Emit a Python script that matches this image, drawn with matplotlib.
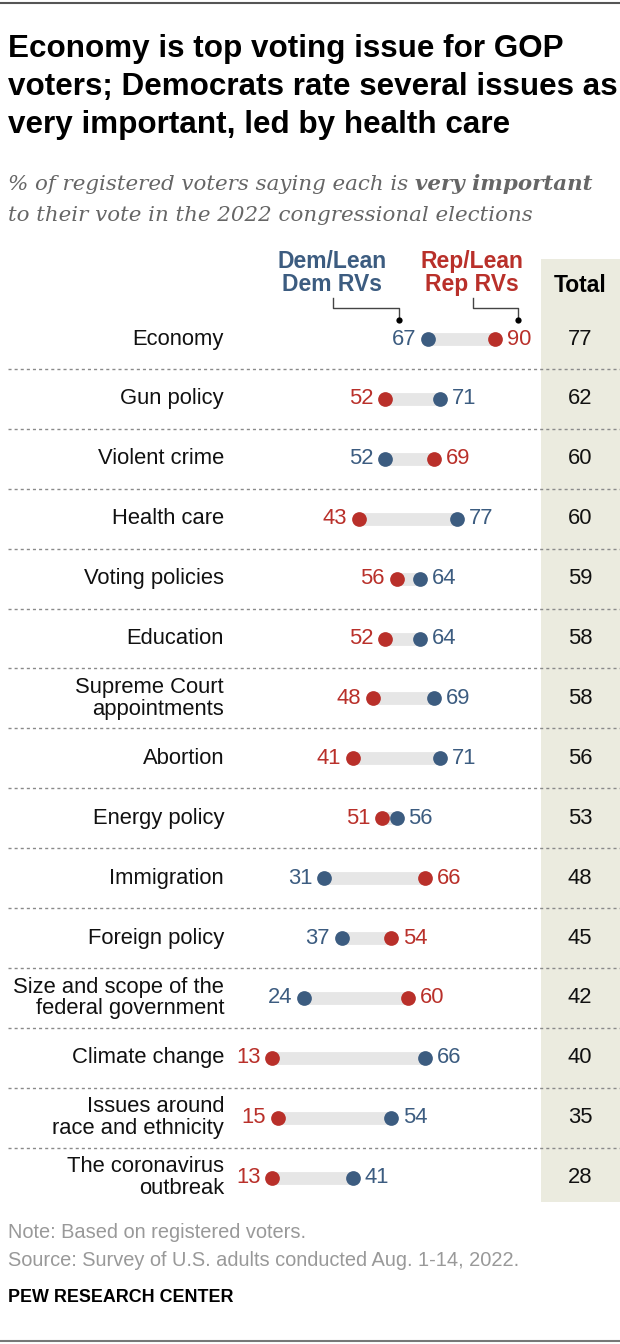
import matplotlib
matplotlib.use("Agg")
import matplotlib.pyplot as plt

issues = ["Economy", "Gun policy", "Violent crime", "Health care", "Voting policies",
          "Education", "Supreme Court\nappointments", "Abortion", "Energy policy",
          "Immigration", "Foreign policy", "Size and scope of the\nfederal government",
          "Climate change", "Issues around\nrace and ethnicity", "The coronavirus\noutbreak"]
dem = [67, 71, 52, 77, 64, 64, 69, 71, 56, 31, 37, 24, 66, 54, 41]
rep = [90, 52, 69, 43, 56, 52, 48, 41, 51, 66, 54, 60, 13, 15, 13]
total = [77, 62, 60, 60, 59, 58, 58, 56, 53, 48, 45, 42, 40, 35, 28]

BLUE = "#3C5C80"
RED = "#B9302A"
BAR = "#E6E6E6"
TOTAL_BG = "#EBEBDF"

BODY = ["Liberation Sans", "DejaVu Sans"]
SERIF = ["DejaVu Serif"]

W, H = 620, 1344
fig = plt.figure(figsize=(W / 100, H / 100), dpi=100)
ax = fig.add_axes([0, 0, 1, 1])
ax.set_axis_off()
rend = fig.canvas.get_renderer()


def px(x, y):
    return x / W, 1 - y / H


def text_width(parts, size):
    # total width in px of consecutive (text, kwargs) pieces at a font size
    w = 0
    for s, kw in parts:
        t = fig.text(0, 0, s, fontsize=size, **kw)
        w += t.get_window_extent(rend).width
        t.remove()
    return w


def fit_size(parts, target):
    return 20 * target / text_width(parts, 20)


# value axis: 0 at x=234.7px, 2.89 px per point; rows every 59.9 px starting at 339
x0, sx = 234.7, 2.89
y0, sy = 339, 59.9
ax.set_xlim(-x0 / sx, (W - x0) / sx)
ax.set_ylim((H - y0) / sy, -y0 / sy)

n = len(issues)
ax.axvspan((541 - x0) / sx, (W - x0) / sx, ymin=1 - 1202 / H, ymax=1 - 259 / H,
           color=TOTAL_BG, zorder=0, lw=0)

for i in range(n):
    d, r = dem[i], rep[i]
    ax.plot([d, r], [i, i], color=BAR, lw=9.2, solid_capstyle="butt", zorder=1)
    ax.plot(d, i, "o", color=BLUE, ms=10.6, mew=0, zorder=3)
    ax.plot(r, i, "o", color=RED, ms=10.6, mew=0, zorder=3)
    lo, hi = (d, r) if d < r else (r, d)
    lo_c = BLUE if d < r else RED
    hi_c = RED if d < r else BLUE
    ax.annotate(str(lo), (lo, i), xytext=(-8.5, 0), textcoords="offset points",
                ha="right", va="center", color=lo_c, fontsize=15.8, family=BODY)
    ax.annotate(str(hi), (hi, i), xytext=(8.5, 0), textcoords="offset points",
                ha="left", va="center", color=hi_c, fontsize=15.8, family=BODY)
    ax.text((224 - x0) / sx, i, issues[i], ha="right", va="center", fontsize=15.8,
            family=BODY, linespacing=1.05, color="#111111")
    ax.text((580 - x0) / sx, i, str(total[i]), ha="center", va="center",
            fontsize=15.8, family=BODY, color="#111111")
    if i < n - 1:
        ax.plot([(8 - x0) / sx, (W - x0) / sx], [i + 0.5, i + 0.5], color="#8A8A8A",
                lw=1, dashes=(2.2, 2.2), zorder=2)

# column headers
fig.text(*px(332, 273), "Dem/Lean\nDem RVs", ha="center", va="center", color=BLUE,
         fontsize=16.5, fontweight="bold", family=BODY, linespacing=0.95)
fig.text(*px(472, 273), "Rep/Lean\nRep RVs", ha="center", va="center", color=RED,
         fontsize=16.5, fontweight="bold", family=BODY, linespacing=0.95)
fig.text(*px(580, 285), "Total", ha="center", va="center", color="black",
         fontsize=16.5, fontweight="bold", family=BODY)

for xa, xb in [(333, 399), (473, 518)]:
    fig.lines.append(plt.Line2D([xa / W, xa / W, xb / W, xb / W],
                                [1 - 298 / H, 1 - 308 / H, 1 - 308 / H, 1 - 320 / H],
                                transform=fig.transFigure, color="#444444", lw=1))
    fig.lines.append(plt.Line2D([xb / W], [1 - 320 / H], transform=fig.transFigure,
                                marker="o", ms=4.5, color="black", mew=0))

# title, three lines, baselines 57 / 95 / 133
title = ["Economy is top voting issue for GOP",
         "voters; Democrats rate several issues as",
         "very important, led by health care"]
tkw = dict(fontweight="bold", family=BODY)
tsize = fit_size([(title[1], tkw)], 608)
for line, yb in zip(title, [57, 95, 133]):
    fig.text(*px(8, yb), line, ha="left", va="baseline", fontsize=tsize,
             color="black", **tkw)

# subtitle with bold italic part
skw = dict(style="italic", family=SERIF, color="#666666")
bkw = dict(skw, fontweight="bold")
part1 = "% of registered voters saying each is "
ssize = fit_size([(part1, skw), ("very important", bkw)], 585)
t1 = fig.text(*px(8, 190), part1, ha="left", va="baseline", fontsize=ssize, **skw)
bb = t1.get_window_extent(rend)
fig.text(bb.x1 / W, 1 - 190 / H, "very important", ha="left", va="baseline",
         fontsize=ssize, **bkw)
fig.text(*px(8, 221), "to their vote in the 2022 congressional elections", ha="left",
         va="baseline", fontsize=ssize, **skw)

# footer
note = "Note: Based on registered voters."
source = "Source: Survey of U.S. adults conducted Aug. 1-14, 2022."
fsize = fit_size([(source, dict(family=BODY))], 512)
fig.text(*px(8, 1233), note, ha="left", va="center", fontsize=fsize, family=BODY,
         color="#999999")
fig.text(*px(8, 1260), source, ha="left", va="center", fontsize=fsize, family=BODY,
         color="#999999")
pkw = dict(fontweight="bold", family=BODY)
psize = fit_size([("PEW RESEARCH CENTER", pkw)], 225)
fig.text(*px(8, 1298), "PEW RESEARCH CENTER", ha="left", va="center", fontsize=psize,
         color="black", **pkw)

fig.lines.append(plt.Line2D([0, 1], [1 - 3 / H, 1 - 3 / H], transform=fig.transFigure,
                            color="#555555", lw=1.5))
fig.lines.append(plt.Line2D([0, 1], [1 - 1341 / H, 1 - 1341 / H], transform=fig.transFigure,
                            color="#777777", lw=1.5))

fig.savefig("out.png", dpi=100)
